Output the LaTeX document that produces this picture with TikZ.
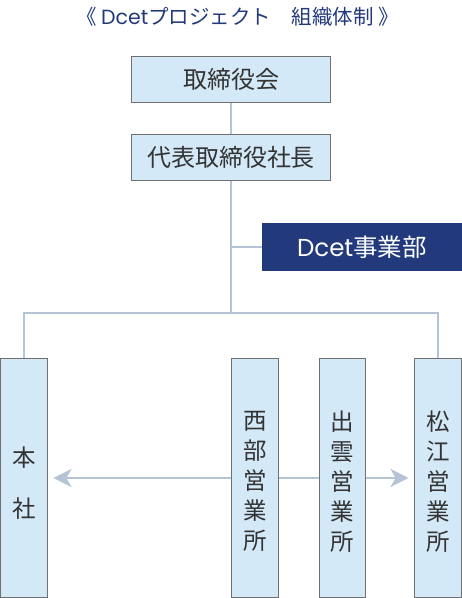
\documentclass[tikz,border=0pt]{standalone}
\usepackage{fontspec}
\setmainfont{Noto Sans CJK JP}
\newfontfamily\latinfont{Poppins}
\usetikzlibrary{arrows.meta}
\definecolor{boxfill}{HTML}{D4E9F8}
\definecolor{boxline}{HTML}{707070}
\definecolor{conn}{HTML}{B4C4D6}
\definecolor{navy}{HTML}{223A7C}
\definecolor{txt}{HTML}{333333}
\tikzset{
  orgbox/.style={draw=boxline, line width=1.3pt, fill=boxfill, text=txt, inner sep=0pt, font=\fontsize{24}{28}\selectfont},
  vbox/.style={draw=boxline, line width=1.3pt, fill=boxfill, minimum width=46.5pt, minimum height=238.5pt, inner sep=0pt},
  vtext/.style={text=txt, align=center, inner sep=0pt, font=\fontsize{23.5}{30}\selectfont},
  conline/.style={draw=conn, line width=2pt},
  arr/.style={draw=conn, line width=2.6pt, -{Stealth[length=18pt, width=18pt, inset=5pt]}}
}
\begin{document}
\begin{tikzpicture}[x=1pt,y=-1pt]
\useasboundingbox (0,0) rectangle (462,598);
\node[text=navy, font=\fontsize{20.5}{22}\selectfont] (title) at (237.5,17) {《 {\latinfont Dcet}プロジェクト　組織体制 》};
\node[orgbox, minimum width=199pt, minimum height=46.5pt] (tori) at (231,79.5) {取締役会};
\node[orgbox, minimum width=199pt, minimum height=46.5pt] (daihyo) at (231,157.5) {代表取締役社長};
\node[fill=navy, text=white, inner sep=0pt, minimum width=200pt, minimum height=48pt, font=\fontsize{24.5}{28}\selectfont] (dcet) at (362,247) {{\latinfont Dcet}事業部};
\node[vbox] (honsha) at (24,478) {};
\node[vbox] (seibu) at (255,478) {};
\node[vbox] (izumo) at (342.5,478) {};
\node[vbox] (matsue) at (438,478) {};
\node[vtext] (honshaT) at ([yshift=-5.5pt]honsha.center) {本\\[21pt]社};
\node[vtext] (seibuT) at ([yshift=-3.5pt]seibu.center) {西\\部\\営\\業\\所};
\node[vtext] (izumoT) at ([yshift=-3.5pt]izumo.center) {出\\雲\\営\\業\\所};
\node[vtext] (matsueT) at ([yshift=-3.5pt]matsue.center) {松\\江\\営\\業\\所};
\coordinate (bus) at (231,313);
\coordinate (busL) at (honsha.north |- bus);
\coordinate (busR) at (matsue.north |- bus);
\draw[conline] (tori.south) -- (daihyo.north);
\draw[conline] (daihyo.south) -- (bus);
\draw[conline] (dcet.west) -- (dcet.west -| daihyo.south);
\draw[conline] (honsha.north) -- (busL) -- (busR) -- (matsue.north);
\draw[arr] (seibu.west) -- ([xshift=5.5pt]honsha.east);
\draw[conline, line width=2.6pt] (seibu.east) -- (izumo.west);
\draw[arr] (izumo.east) -- ([xshift=-5.5pt]matsue.west);
\end{tikzpicture}
\end{document}
